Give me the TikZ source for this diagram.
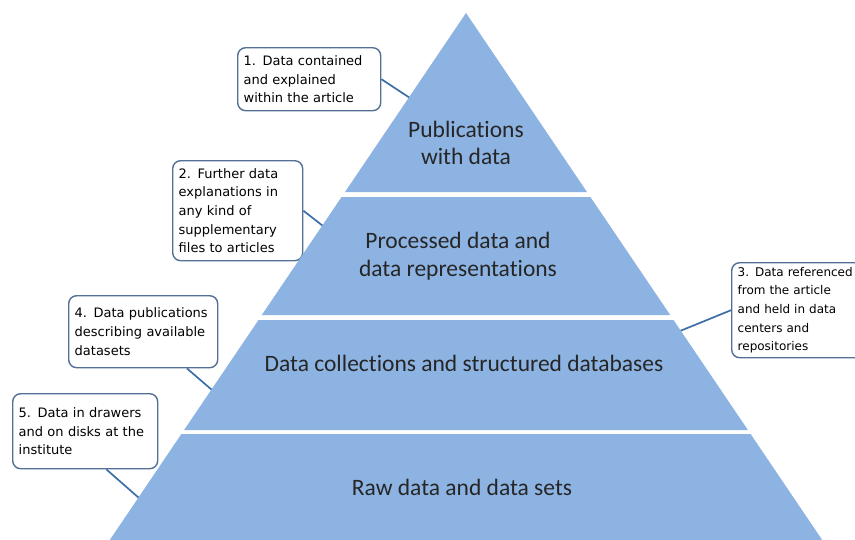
\documentclass[tikz,border=0pt]{standalone}
\usepackage{fontspec}
\setmainfont{Carlito}[Ligatures=NoCommon]
\newfontfamily\callfont{DejaVu Sans}
\definecolor{tierblue}{RGB}{141,179,226}
\definecolor{boxline}{RGB}{84,112,150}
\definecolor{connline}{RGB}{60,110,168}
\begin{document}
\begin{tikzpicture}[x=1pt,y=-1pt,
  callout/.style={draw=boxline, line width=1.4pt, fill=white, rounded corners=8pt,
    anchor=north west, align=left, inner xsep=6pt, inner ysep=2pt,
    font=\callfont\fontsize{13}{18.7}\selectfont},
  conn/.style={draw=connline, line width=1.7pt},
  tier/.style={fill=tierblue},
  tiertext/.style={align=center, font=\fontsize{23.5}{27.5}\selectfont, text=black!85}]
\clip (0,0) rectangle (855,539);
\fill[white] (0,0) rectangle (855,539);
% callouts
\node[callout, text width=131pt, minimum height=63pt] (c1) at (237,47)
  {1. Data contained\\and explained\\within the article};
\node[callout, text width=118pt, minimum height=100pt] (c2) at (172,160)
  {2. Further data\\explanations in\\any kind of\\supplementary\\files to articles};
\node[callout, text width=140pt, minimum height=95pt,
  font=\callfont\fontsize{12}{18.7}\selectfont] (c3) at (731,262)
  {3. Data referenced\\from the article\\and held in data\\centers and\\repositories};
\node[callout, text width=137pt, minimum height=72pt] (c4) at (68,295)
  {4. Data publications\\describing available\\datasets};
\node[callout, text width=133pt, minimum height=75pt] (c5) at (12,393)
  {5. Data in drawers\\and on disks at the\\institute};
% pyramid edge points
\coordinate (e1) at (410,98);
\coordinate (e2) at (323,226);
\coordinate (e3) at (680,331);
\coordinate (e4) at (212,390);
\coordinate (e5) at (139,498);
% connectors
\draw[conn] (c1.east) -- (e1);
\draw[conn] (c2.east) -- (e2);
\draw[conn] (c3.west) -- (e3);
\draw[conn] (c4.-40) -- (e4);
\draw[conn] (c5.-61) -- (e5);
% tiers
\fill[tier] (466,13) -- (587,192) -- (345,192) -- cycle;
\fill[tier] (341.6,197) -- (590.4,197) -- (670.2,315) -- (261.8,315) -- cycle;
\fill[tier] (258.5,320) -- (673.5,320) -- (747.9,430) -- (184.1,430) -- cycle;
\fill[tier] (181.4,434) -- (750.6,434) -- (825.6,545) -- (106.4,545) -- cycle;
% tier labels
\node[tiertext] (t1) at (466,143) {Publications\\with data};
\node[tiertext] (t2) at (458,256) {Processed data and\\data representations};
\node[tiertext] (t3) at (464,363) {Data collections and structured databases};
\node[tiertext] (t4) at (462,487) {Raw data and data sets};
\end{tikzpicture}
\end{document}
